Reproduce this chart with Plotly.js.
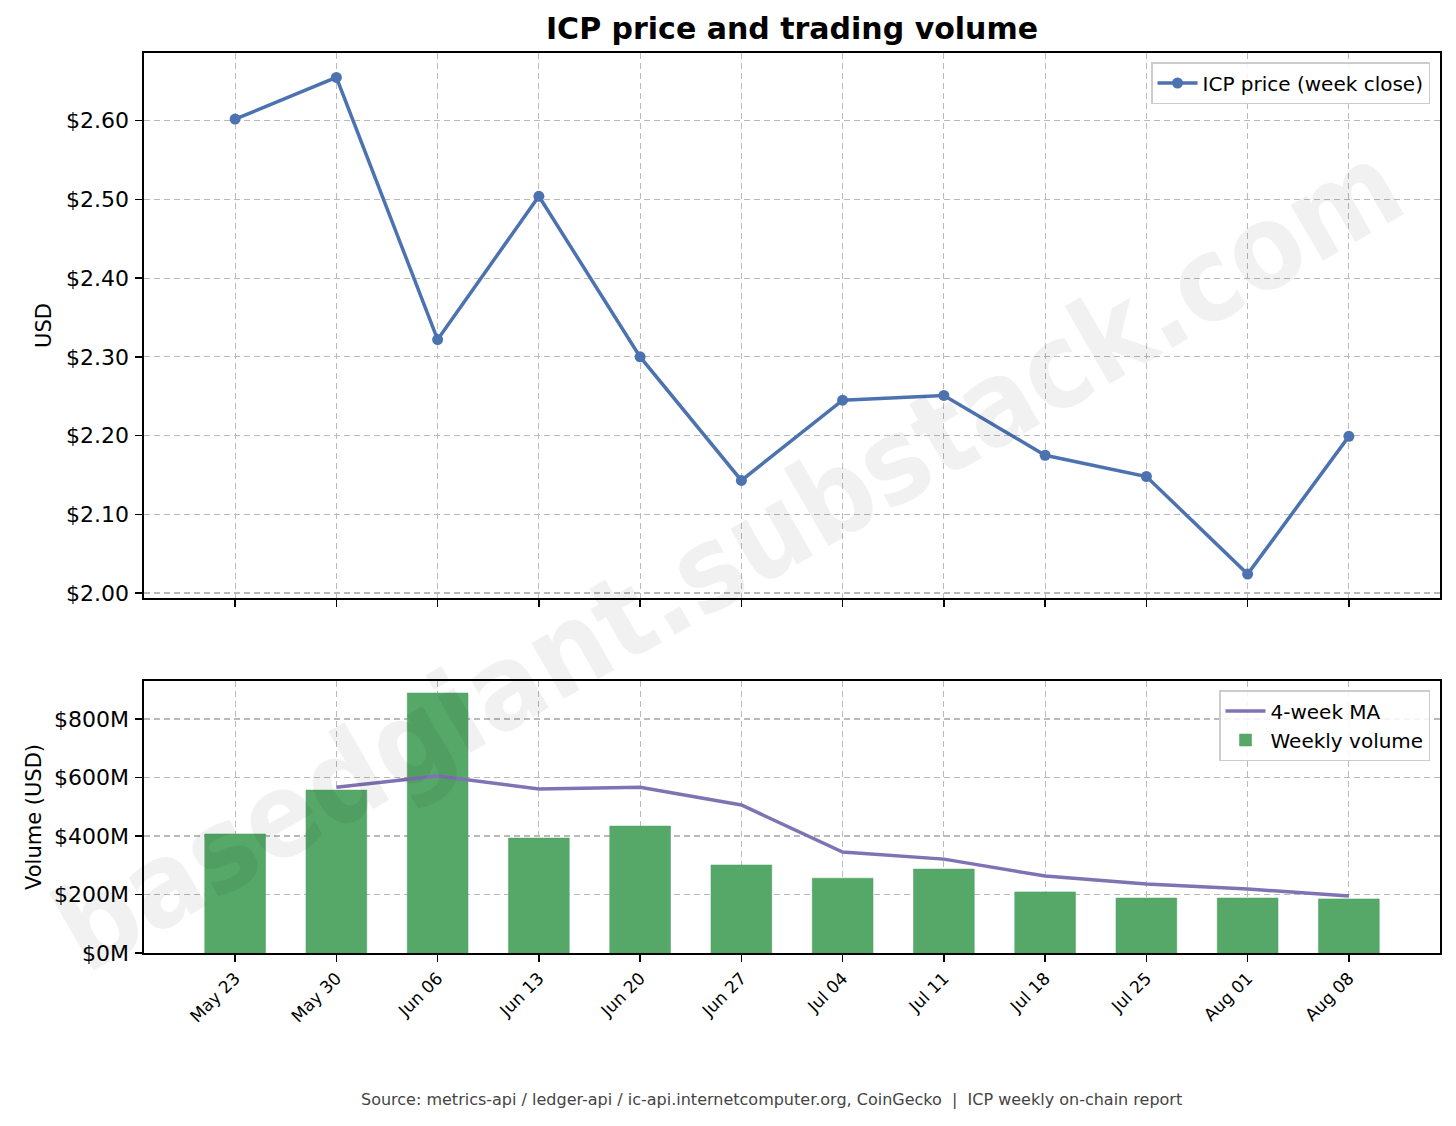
<!DOCTYPE html>
<html>
<head>
<meta charset="utf-8">
<script src="https://cdn.plot.ly/plotly-3.0.1.min.js"></script>
<style>html,body{margin:0;padding:0;background:#fff;}#chart{width:1456px;height:1126px;}</style>
</head>
<body>
<div id="chart"></div>
<script>
// Data
const weeks = ['May 23','May 30','Jun 06','Jun 13','Jun 20','Jun 27','Jul 04','Jul 11','Jul 18','Jul 25','Aug 01','Aug 08'];
const priceClose = [2.602, 2.655, 2.322, 2.504, 2.300, 2.143, 2.245, 2.251, 2.175, 2.148, 2.024, 2.199];
const weeklyVolumeM = [407, 557, 889, 393, 434, 301, 256, 287, 209, 188, 188, 185];
const maVolumeM = [null, 567, 605, 561, 567, 506, 345, 321, 263, 236, 219, 195];
const priceTickVals = [2.0, 2.1, 2.2, 2.3, 2.4, 2.5, 2.6];
const priceTickText = ['$2.00', '$2.10', '$2.20', '$2.30', '$2.40', '$2.50', '$2.60'];
const volTickVals = [0, 200, 400, 600, 800];
const volTickText = ['$0M', '$200M', '$400M', '$600M', '$800M'];

const FONT = 'DejaVu Sans, sans-serif';
const gridColor = '#bababa';

const traces = [
  {
    x: weeks, y: priceClose, type: 'scatter', mode: 'lines+markers',
    name: 'ICP price (week close)', xaxis: 'x', yaxis: 'y', legend: 'legend',
    line: {color: '#4c72b0', width: 3.5}, marker: {color: '#4c72b0', size: 11}
  },
  {
    x: weeks, y: maVolumeM, type: 'scatter', mode: 'lines',
    name: '4-week MA', xaxis: 'x2', yaxis: 'y2', legend: 'legend2',
    line: {color: '#8172b3', width: 3.5}, connectgaps: false
  },
  {
    x: weeks, y: weeklyVolumeM, type: 'bar', width: 0.6,
    name: 'Weekly volume', xaxis: 'x2', yaxis: 'y2', legend: 'legend2',
    marker: {color: '#55a868', line: {color: '#4e9e60', width: 0.5}}
  }
];

const axisCommon = {
  showline: true, linecolor: '#000', linewidth: 1.6, mirror: true,
  ticks: 'outside', ticklen: 7, tickwidth: 1.5, tickcolor: '#000',
  showgrid: true, gridcolor: gridColor, griddash: '6px,4px', gridwidth: 1.1,
  zeroline: false, tickfont: {family: FONT, size: 22, color: '#000'}
};

const layout = {
  width: 1456, height: 1126,
  margin: {l: 144, r: 16, t: 53, b: 173},
  paper_bgcolor: '#fff', plot_bgcolor: '#fff',
  font: {family: FONT, color: '#000'},
  title: {
    text: 'ICP price and trading volume',
    font: {family: FONT, size: 30, weight: 700, color: '#000'},
    x: 0.5, xref: 'paper', xanchor: 'center',
    y: 0.975, yref: 'container', yanchor: 'middle'
  },
  showlegend: true,
  xaxis: Object.assign({}, axisCommon, {
    type: 'category', range: [-0.9, 11.9], domain: [0, 1], anchor: 'y',
    showticklabels: false
  }),
  yaxis: Object.assign({}, axisCommon, {
    domain: [0.3944, 1], anchor: 'x', range: [1.9936, 2.686],
    tickvals: priceTickVals, ticktext: priceTickText, ticklabelstandoff: 2,
    title: {text: 'USD', font: {family: FONT, size: 21, color: '#000'}, standoff: 8}
  }),
  xaxis2: Object.assign({}, axisCommon, {
    type: 'category', range: [-0.9, 11.9], domain: [0, 1], anchor: 'y2',
    tickangle: -45, tickfont: {family: FONT, size: 17, color: '#000'}
  }),
  yaxis2: Object.assign({}, axisCommon, {
    domain: [0, 0.3022], anchor: 'x2', range: [0, 930],
    tickvals: volTickVals, ticktext: volTickText, ticklabelstandoff: 2,
    title: {text: 'Volume (USD)', font: {family: FONT, size: 21, color: '#000'}, standoff: 6}
  }),
  legend: {
    x: 0.9923, xanchor: 'right', y: 0.99, yanchor: 'top',
    bgcolor: 'rgba(255,255,255,0.85)', bordercolor: '#cccccc', borderwidth: 1.5,
    font: {family: FONT, size: 20, color: '#000'}, itemwidth: 40
  },
  legend2: {
    x: 0.9923, xanchor: 'right', y: 0.2922, yanchor: 'top',
    bgcolor: 'rgba(255,255,255,0.85)', bordercolor: '#cccccc', borderwidth: 1.5,
    font: {family: FONT, size: 20, color: '#000'}, traceorder: 'normal', itemwidth: 40
  },
  annotations: [
    {
      text: 'basedgiant.substack.com', xref: 'paper', yref: 'paper',
      x: 0.4506, y: 0.44, xanchor: 'center', yanchor: 'middle',
      showarrow: false, textangle: -30,
      font: {family: 'DejaVu Sans Condensed, DejaVu Sans, sans-serif', size: 118, weight: 700, color: 'rgba(0,0,0,0.055)'}
    },
    {
      text: 'Source: metrics-api / ledger-api / ic-api.internetcomputer.org, CoinGecko \u00a0|\u00a0 ICP weekly on-chain report',
      xref: 'paper', yref: 'paper', x: 0.4838, y: -0.1633,
      xanchor: 'center', yanchor: 'middle', showarrow: false,
      font: {family: FONT, size: 16, color: '#444'}
    }
  ]
};

Plotly.newPlot('chart', traces, layout, {displayModeBar: false, staticPlot: true});
</script>
</body>
</html>
